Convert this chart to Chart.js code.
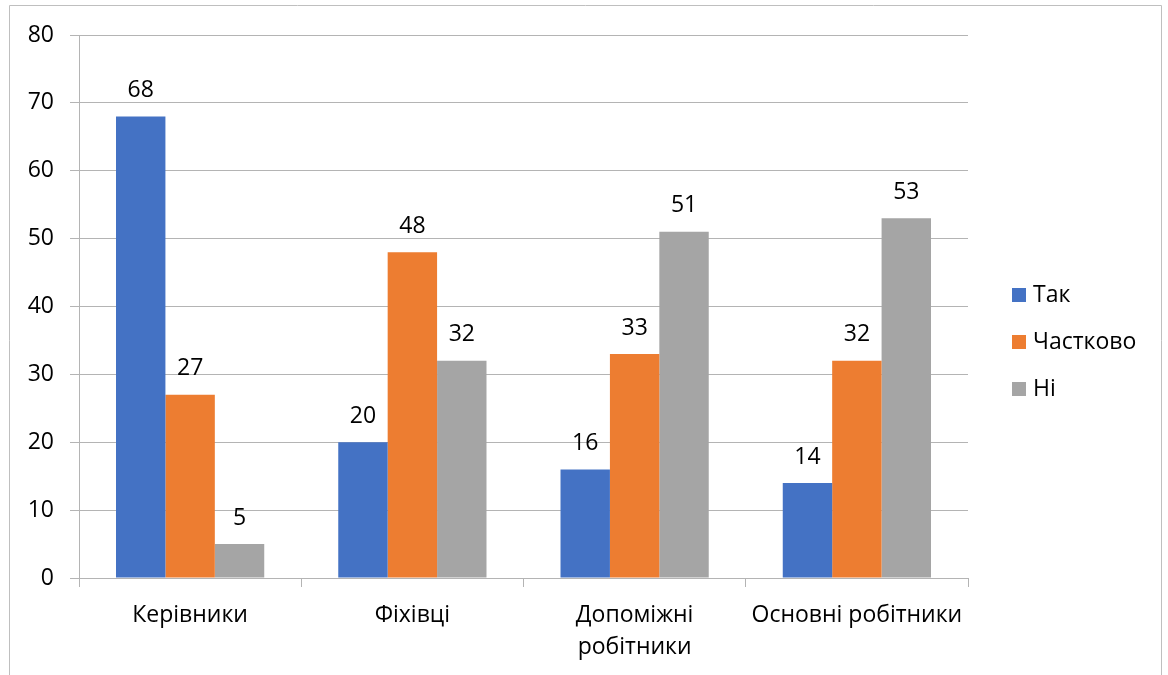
<!DOCTYPE html>
<html>
<head>
<meta charset="utf-8">
<script src="https://cdn.jsdelivr.net/npm/chart.js@4"></script>
<style>
  html, body { margin: 0; padding: 0; background: #fff; }
  #wrap { width: 1168px; height: 675px; position: relative; }
</style>
</head>
<body>
<div id="wrap"><canvas id="myChart" width="1168" height="675"></canvas></div>
<script>
let categories = ['Керівники', 'Фіхівці', ['Допоміжні', 'робітники'], 'Основні робітники'];
let seriesNames = ['Так', 'Частково', 'Ні'];
let valuesTak = [68, 20, 16, 14];
let valuesChastkovo = [27, 48, 33, 32];
let valuesNi = [5, 32, 51, 53];
let yTicks = [0, 10, 20, 30, 40, 50, 60, 70, 80];

let colors = ['#4472C4', '#ED7D31', '#A5A5A5'];
let fontFamily = '"Open Sans", "Noto Sans", sans-serif';
let fontSize = 23;
let gridColor = '#b4b4b4';

// outer frame like the office chart border
const framePlugin = {
  id: 'frame',
  beforeDraw(chart) {
    const c = chart.ctx;
    c.save();
    c.fillStyle = '#fff';
    c.fillRect(0, 0, chart.width, chart.height);
    c.strokeStyle = '#bfbfbf';
    c.lineWidth = 1;
    c.beginPath();
    c.moveTo(9.5, 675);
    c.lineTo(9.5, 5.5);
    c.lineTo(1161.5, 5.5);
    c.lineTo(1161.5, 675);
    c.stroke();
    c.restore();
  }
};

// value labels above bars
const valueLabels = {
  id: 'valueLabels',
  afterDatasetsDraw(chart) {
    const c = chart.ctx;
    c.save();
    c.font = fontSize + 'px ' + fontFamily;
    c.fillStyle = '#000';
    c.textAlign = 'center';
    c.textBaseline = 'middle';
    chart.data.datasets.forEach((ds, i) => {
      chart.getDatasetMeta(i).data.forEach((bar, j) => {
        c.fillText(ds.data[j], bar.x, bar.y - 26);
      });
    });
    c.restore();
  }
};

// legend on the right, drawn by hand for exact spacing
const sideLegend = {
  id: 'sideLegend',
  afterDraw(chart) {
    const c = chart.ctx;
    c.save();
    c.font = fontSize + 'px ' + fontFamily;
    c.textBaseline = 'middle';
    c.textAlign = 'left';
    seriesNames.forEach((name, i) => {
      const y = 295 + i * 47;
      c.fillStyle = colors[i];
      c.fillRect(1012, y - 7, 14, 14);
      c.fillStyle = '#000';
      c.fillText(name, 1033, y);
    });
    c.restore();
  }
};

let ctx = document.getElementById('myChart').getContext('2d');
let myChart = new Chart(ctx, {
  type: 'bar',
  data: {
    labels: categories,
    datasets: [
      { label: seriesNames[0], data: valuesTak, backgroundColor: colors[0] },
      { label: seriesNames[1], data: valuesChastkovo, backgroundColor: colors[1] },
      { label: seriesNames[2], data: valuesNi, backgroundColor: colors[2] }
    ]
  },
  options: {
    responsive: false,
    animation: false,
    layout: { padding: { top: 35, right: 200, left: 0, bottom: 0 } },
    datasets: { bar: { categoryPercentage: 0.667, barPercentage: 1.0 } },
    plugins: {
      legend: { display: false },
      tooltip: { enabled: false }
    },
    scales: {
      x: {
        grid: { display: true, drawOnChartArea: false, drawTicks: true, tickLength: 9, color: gridColor, offset: true },
        border: { display: true, color: gridColor },
        ticks: { color: '#000', font: { family: fontFamily, size: fontSize, lineHeight: 1.4 }, padding: 12, maxRotation: 0, autoSkip: false },
        afterFit(scale) { scale.height = 97; }
      },
      y: {
        min: 0,
        max: 80,
        afterBuildTicks(scale) { scale.ticks = yTicks.map(v => ({ value: v })); },
        grid: { color: gridColor, drawTicks: true, tickLength: 9 },
        border: { display: true, color: gridColor },
        ticks: { color: '#000', font: { family: fontFamily, size: fontSize }, padding: 16 },
        afterFit(scale) { scale.width = 79; }
      }
    }
  },
  plugins: [framePlugin, valueLabels, sideLegend]
});
</script>
</body>
</html>
